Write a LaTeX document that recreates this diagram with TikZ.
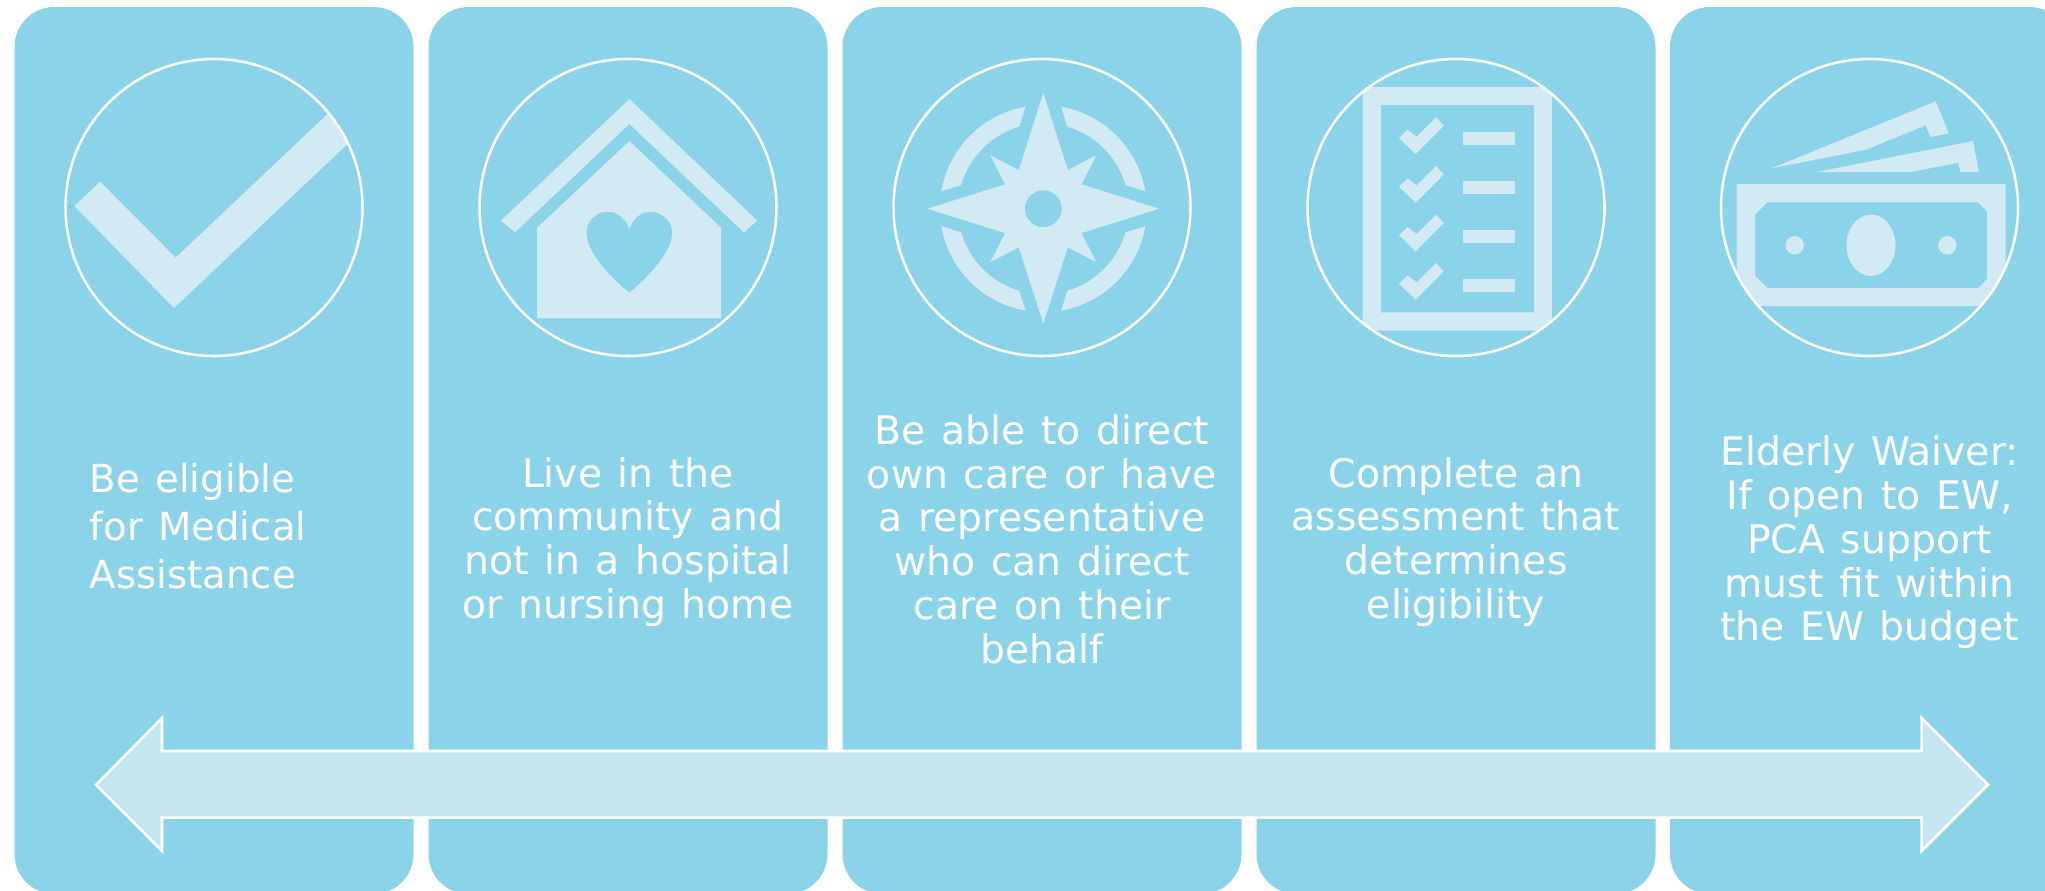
\documentclass[tikz,border=0pt]{standalone}
\usepackage{fontspec}
\setmainfont{DejaVu Sans}[WordSpace=1.25]
\definecolor{panelc}{RGB}{139,211,232}
\definecolor{iconc}{RGB}{209,234,243}
\definecolor{arrowc}{RGB}{197,230,240}
\tikzset{
  panelbox/.style={fill=panelc,draw=none,rounded corners=30pt,minimum width=299.25pt,minimum height=665.25pt,inner sep=0pt},
  ring/.style={draw=white,line width=1.9pt},
  iconfill/.style={fill=iconc,draw=none},
  caption/.style={text=white,align=center,inner sep=0pt,font=\fontsize{29.5}{32.8}\selectfont},
  bigarrow/.style={fill=arrowc,draw=white,line width=1.9pt,miter limit=10}
}
\begin{document}
\begin{tikzpicture}[x=0.75pt,y=-0.75pt]
\useasboundingbox (0,0) rectangle (2045,890);
\clip (0,0) rectangle (2045,890);
% panels
\node[panelbox] (p1) at (214,450.5) {};
\node[panelbox] (p2) at (628,450.5) {};
\node[panelbox] (p3) at (1042,450.5) {};
\node[panelbox] (p4) at (1456,450.5) {};
\node[panelbox] (p5) at (1869.5,450.5) {};
% icon 1: check
\begin{scope}
\clip (214,207.5) circle[radius=148.5];
\fill[iconfill] (74.3,206) -- (100.3,181.7) -- (175.6,257.7) -- (335,107) -- (355,137) -- (174,308) -- cycle;
\end{scope}
% icon 2: house
\fill[iconfill] (629.4,99) -- (757.3,220.7) -- (743.8,232.3) -- (629.4,124) -- (515,232.3) -- (500.9,220.7) -- cycle;
\fill[iconfill,even odd rule] (629.4,141) -- (721,227.7) -- (721,318.3) -- (537.2,318.3) -- (537.2,227.7) -- cycle
  (629.4,228.7) .. controls (634,217) and (642,211.7) .. (650.5,211.7)
  .. controls (662,211.7) and (672.2,221) .. (672.2,233)
  .. controls (672.2,253) and (645,280) .. (629.4,292.7)
  .. controls (613,280) and (586.5,253) .. (586.5,233)
  .. controls (586.5,221) and (596,211.7) .. (607.7,211.7)
  .. controls (616,211.7) and (625,217) .. (629.4,228.7) -- cycle;
% icon 3: compass
\begin{scope}[shift={(1043.3,208.7)}]
\fill[iconfill,even odd rule] (0,-116) -- (24.5,-38.7) -- (53,-53.4) -- (38.2,-24.4)
  -- (116,0) -- (38.2,24.4) -- (53,53.4) -- (24.5,38.7)
  -- (0,115) -- (-24.5,38.7) -- (-53,53.4) -- (-38.2,24.4)
  -- (-116,0) -- (-38.2,-24.4) -- (-53,-53.4) -- (-24.5,-38.7) -- cycle
  (0,0) circle[radius=18.5];
\foreach \sx/\sy in {1/1,-1/1,1/-1,-1/-1}{
  \begin{scope}[xscale=\sx,yscale=\sy]
  \fill[iconfill] plot[domain=9.7:80.1,samples=16] (\x:103.5) -- plot[domain=73.7:16.1,samples=16] (\x:85.5) -- cycle;
  \end{scope}
}
\end{scope}
% icon 4: checklist
\begin{scope}
\clip (1456,207.5) circle[radius=148.5];
\fill[iconfill,even odd rule] (1362.7,87) rectangle (1551.9,330.7) (1381,105) rectangle (1534,312.3);
\foreach \d in {0,48.7,97.3,145.7}{
  \fill[iconfill] (1398.9,138+\d) -- (1407.6,129.7+\d) -- (1416.7,136.7+\d) -- (1436.1,117.3+\d) -- (1443.8,125.7+\d) -- (1415.7,154+\d) -- cycle;
}
\foreach \d in {0,49,98,147}{
  \fill[iconfill] (1463.2,131.7+\d) rectangle (1515.2,145+\d);
}
\end{scope}
% icon 5: money
\begin{scope}
\clip (1869.5,207.5) circle[radius=148.5];
\fill[iconfill,even odd rule] (1736.7,184) rectangle (2005.7,306)
  (1767.3,202.3) -- (1978.3,202.3) -- (1987,211.7) -- (1987,279.3) -- (1978.3,288) -- (1767.3,288) -- (1755,275.7) -- (1755,214.7) -- cycle;
\fill[iconfill] (1871,245.3) ellipse[x radius=24.5,y radius=30.7];
\fill[iconfill] (1794.7,245.3) circle[radius=9.2];
\fill[iconfill] (1947.3,245.3) circle[radius=9.2];
\fill[iconfill] (1771.7,168.3) -- (1935.7,101.3) -- (1948.7,133.3) -- (1930.3,137) -- (1925.7,125.3) -- (1866,149.7) -- cycle;
\fill[iconfill] (1816.7,172) -- (1973,141) -- (1979,172) -- (1960.3,172) -- (1958.3,162.7) -- (1911,172) -- cycle;
\end{scope}
% rings
\node[ring,circle,minimum size=222.75pt,inner sep=0pt] (c1) at (214,207.5) {};
\node[ring,circle,minimum size=222.75pt,inner sep=0pt] (c2) at (628,207.5) {};
\node[ring,circle,minimum size=222.75pt,inner sep=0pt] (c3) at (1042,207.5) {};
\node[ring,circle,minimum size=222.75pt,inner sep=0pt] (c4) at (1456,207.5) {};
\node[ring,circle,minimum size=222.75pt,inner sep=0pt] (c5) at (1869.5,207.5) {};
% captions
\node[caption,align=left,anchor=west,font=\fontsize{29}{36.1}\selectfont] (t1) at (89.5,526) {Be eligible\\for Medical\\Assistance};
\node[caption] (t2) at (628,542) {Live in the\\community and\\not in a hospital\\or nursing home};
\node[caption] (t3) at (1042,539) {Be able to direct\\own care or have\\a representative\\who can direct\\care on their\\behalf};
\node[caption] (t4) at (1456,542) {Complete an\\assessment that\\determines\\eligibility};
\node[caption] (t5) at (1869.5,542.5) {Elderly Waiver:\\If open to EW,\\PCA support\\must fit within\\the EW budget};
% arrow
\draw[bigarrow] (96,784.7) -- (162,718) -- (162,751) -- (1921.7,751) -- (1921.7,718) -- (1988,784.7) -- (1921.7,851) -- (1921.7,817.7) -- (162,817.7) -- (162,851) -- cycle;
\end{tikzpicture}
\end{document}
